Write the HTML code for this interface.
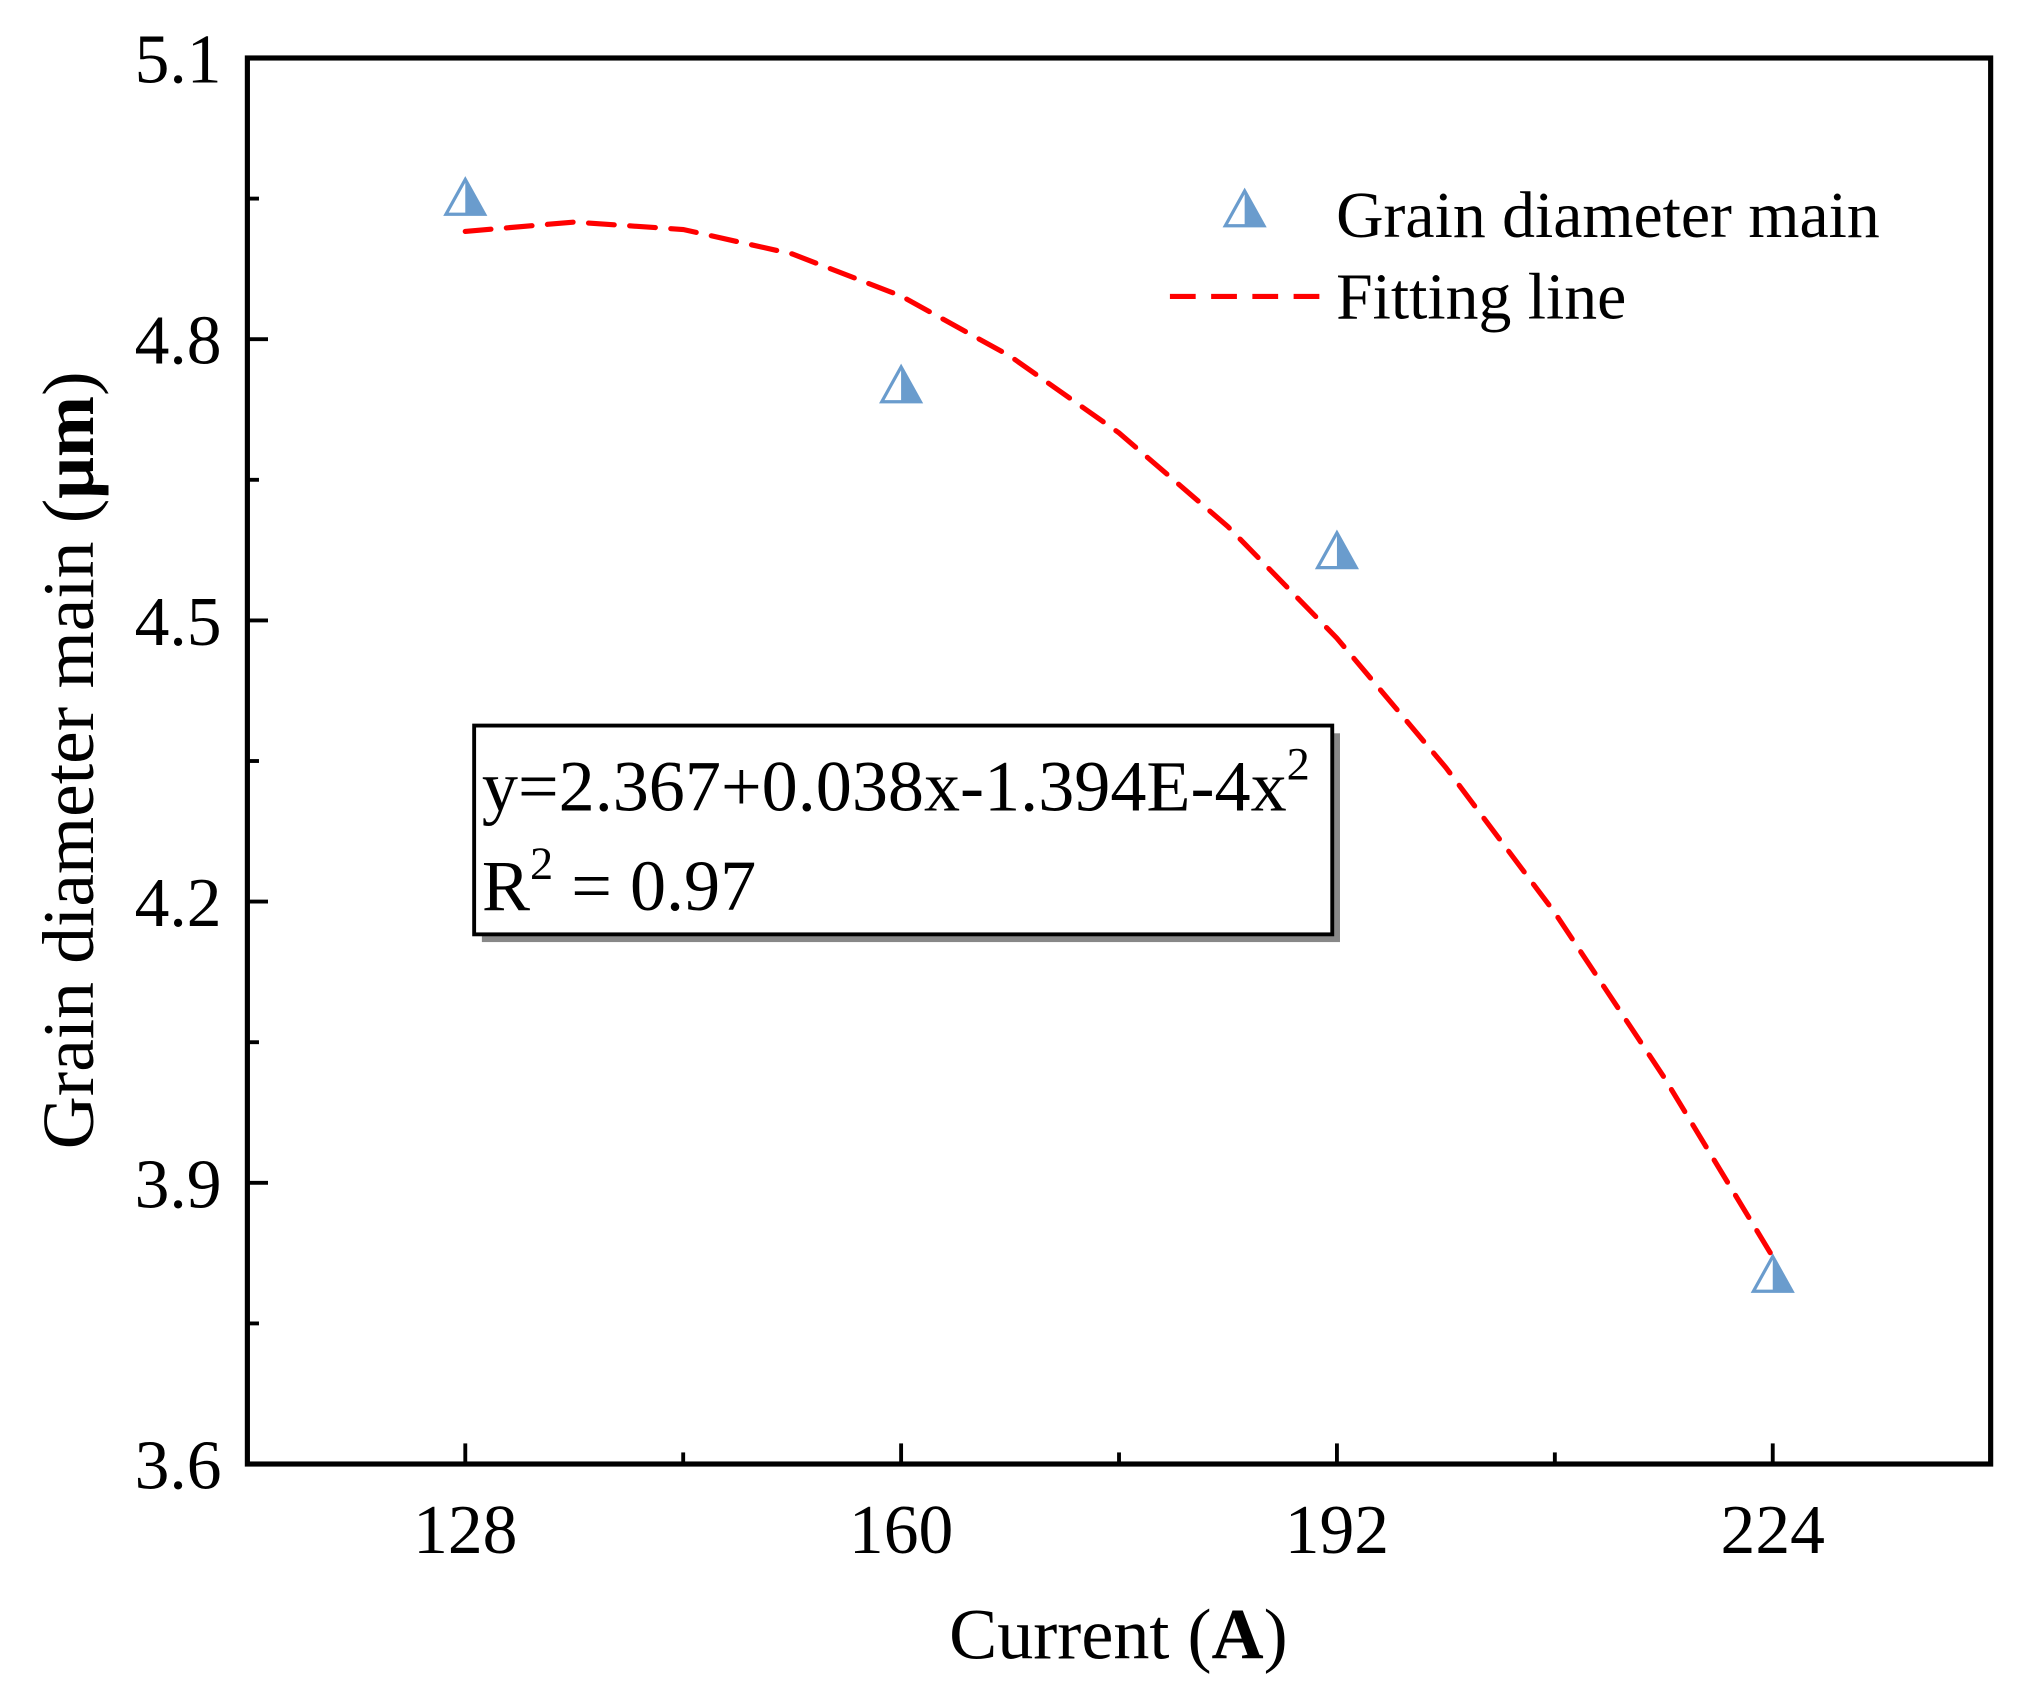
<!DOCTYPE html>
<html><head><meta charset="utf-8"><style>
html,body{margin:0;padding:0;background:#fff}
svg{display:block}
text{font-family:"Liberation Serif",serif;fill:#000}
</style></head><body>
<svg id="chart" width="2019" height="1696" viewBox="0 0 1567 1316" preserveAspectRatio="none" xmlns="http://www.w3.org/2000/svg">
<g id="axes"></g>
<g id="fit"></g>
<g id="pts"></g>
<g>
<rect x="374" y="569" width="666" height="162" fill="#888"/>
<rect x="368" y="563" width="666" height="162" fill="#fff" stroke="#000" stroke-width="3"/>
<text x="374" y="629" font-size="56">y=2.367+0.038x-1.394E-4x<tspan dy="-24" font-size="36">2</tspan></text>
<text x="374" y="706" font-size="56">R<tspan dy="-24" font-size="36">2</tspan><tspan dy="24"> = 0.97</tspan></text>
</g>
<g>
<g id="legtri"></g>
<text x="1037" y="184" font-size="51">Grain diameter main</text>
<line x1="908" y1="230" x2="1025" y2="230" stroke="#f00" stroke-width="4" stroke-dasharray="20,12"/>
<text x="1037" y="247" font-size="51">Fitting line</text>
</g>
<text x="868" y="1287" font-size="56" text-anchor="middle">Current (<tspan font-weight="bold">A</tspan>)</text>
<text transform="translate(72,590) rotate(-90)" font-size="57" text-anchor="middle">Grain diameter main (<tspan font-weight="bold">μm</tspan>)</text>
</svg>
<script>
const xCats = [128, 160, 192, 224];
const yVals = [4.95, 4.75, 4.573, 3.801];
const fitX = [128,136,144,152,160,168,176,184,192,200,208,216,224];
const fitY = [4.915,4.925,4.917,4.891,4.846,4.782,4.70,4.600,4.481,4.343,4.188,4.013,3.821];
const xTicks = [128,160,192,224];
const xMinor = [144,176,208];
const yTicks = ["3.6","3.9","4.2","4.5","4.8","5.1"];
const yMinor = [3.75,4.05,4.35,4.65,4.95];

const L=192,R=1545,T=45,B=1136,X0=112,X1=240,Y0=3.6,Y1=5.1;
const sx=v=>L+(v-X0)/(X1-X0)*(R-L);
const sy=v=>B-(v-Y0)/(Y1-Y0)*(B-T);
const NS="http://www.w3.org/2000/svg";
function mk(tag,attrs,parent){const e=document.createElementNS(NS,tag);for(const k in attrs)e.setAttribute(k,attrs[k]);parent.appendChild(e);return e;}
const ax=document.getElementById('axes');
const frame=mk('rect',{x:L,y:T,width:R-L,height:B-T,fill:'none',stroke:'#000','stroke-width':4},ax);


xTicks.forEach(v=>{
  const t=mk('line',{x1:sx(v),x2:sx(v),y1:B,y2:B-16,stroke:'#000','stroke-width':3},ax);
  
  
  const l=mk('text',{x:sx(v),y:1205,'font-size':54,'text-anchor':'middle'},ax);
  l.textContent=v;
  
  
});
xMinor.forEach(v=>{
  const t=mk('line',{x1:sx(v),x2:sx(v),y1:B,y2:B-9,stroke:'#000','stroke-width':3},ax);
  
  
});
yTicks.forEach(s=>{
  const v=parseFloat(s);
  const t=mk('line',{x1:L,x2:L+16,y1:sy(v),y2:sy(v),stroke:'#000','stroke-width':3},ax);
  
  
  const l=mk('text',{x:172,y:sy(v)+19,'font-size':54,'text-anchor':'end'},ax);
  l.textContent=s;
  
  
});
yMinor.forEach(v=>{
  const t=mk('line',{x1:L,x2:L+9,y1:sy(v),y2:sy(v),stroke:'#000','stroke-width':3},ax);
  
  
});
const fg=document.getElementById('fit');
const pts=fitX.map((x,i)=>sx(x).toFixed(1)+','+sy(fitY[i]).toFixed(1)).join(' ');
const pl=mk('polyline',{points:pts,fill:'none',stroke:'#f00','stroke-width':4,'stroke-dasharray':'20,12','stroke-linecap':'round'},fg);


function tri(cx,cy,parent,name){
  const g=mk('g',{},parent);
  
  
  const w=15,h=27,top=cy-h*0.55,bot=cy+h*0.45;
  mk('polygon',{points:`${cx},${top} ${cx+w},${bot} ${cx-w},${bot}`,fill:'#fff',stroke:'#6a9ccd','stroke-width':2.5},g);
  mk('polygon',{points:`${cx},${top} ${cx+w},${bot} ${cx},${bot}`,fill:'#6a9ccd'},g);
}
const pg=document.getElementById('pts');
xCats.forEach((x,i)=>tri(sx(x),sy(yVals[i]),pg,'data-point'));
tri(966,163,document.getElementById('legtri'),'legend-triangle');
</script>
</body></html>
